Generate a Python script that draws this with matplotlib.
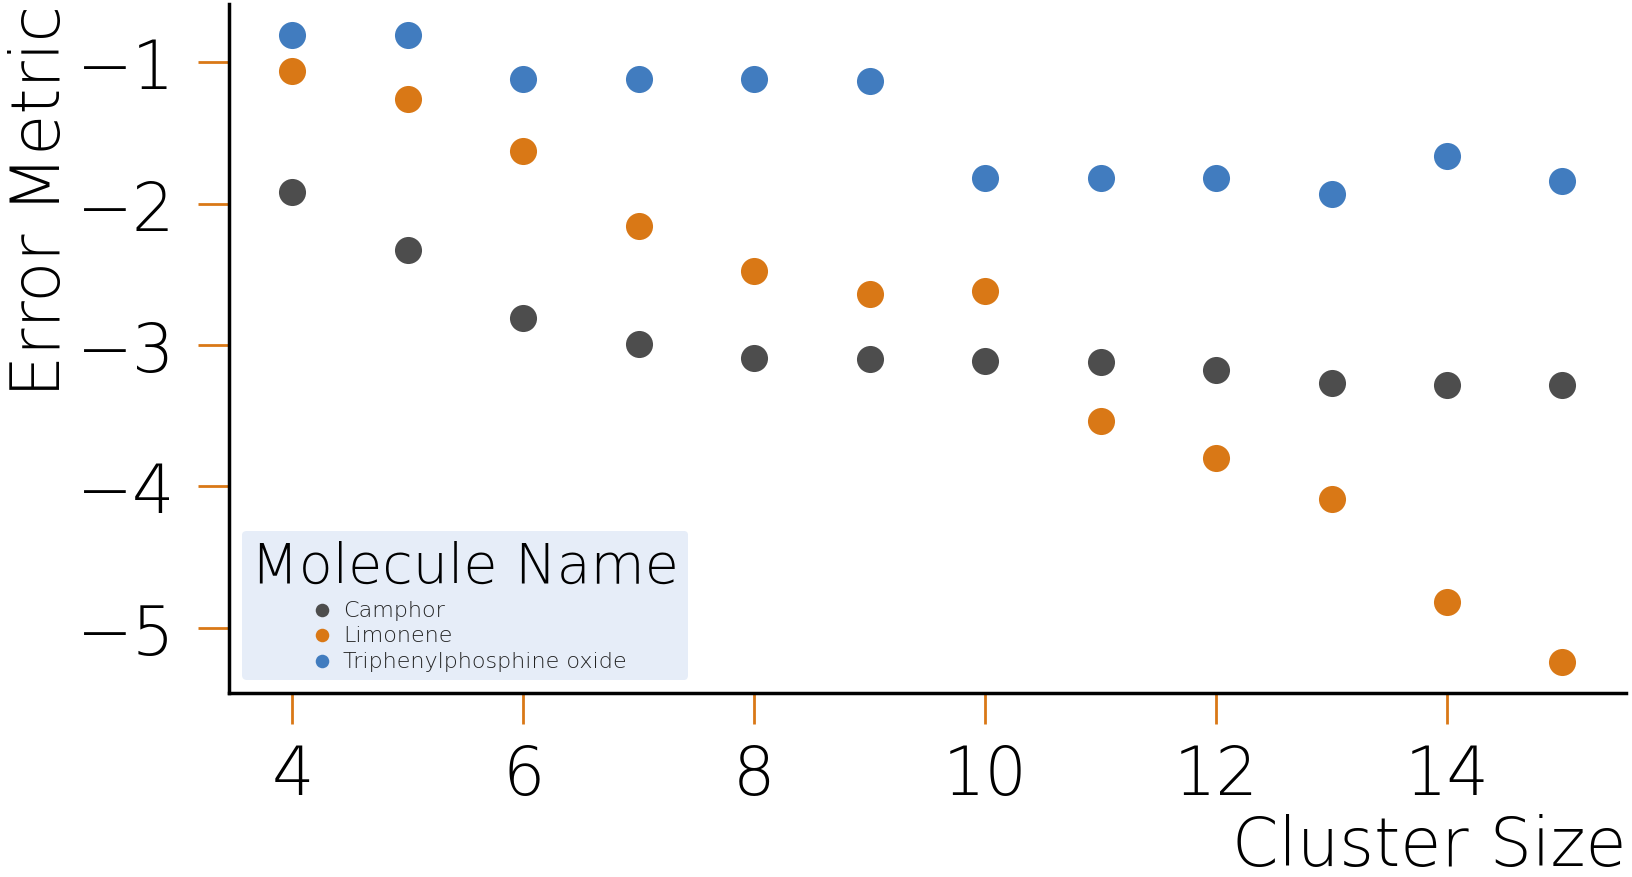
import matplotlib
matplotlib.use("Agg")
import matplotlib.pyplot as plt

cluster_size = [4, 5, 6, 7, 8, 9, 10, 11, 12, 13, 14, 15]
camphor = [-1.92, -2.33, -2.81, -2.99, -3.09, -3.10, -3.11, -3.12, -3.18, -3.27, -3.28, -3.28]
limonene = [-1.06, -1.26, -1.63, -2.16, -2.48, -2.64, -2.62, -3.54, -3.80, -4.09, -4.82, -5.24]
tppo = [-0.81, -0.81, -1.12, -1.12, -1.12, -1.13, -1.82, -1.82, -1.82, -1.93, -1.66, -1.84]
names = ["Camphor", "Limonene", "Triphenylphosphine oxide"]
colors = ["#4d4d4d", "#d97816", "#417cbf"]
series = [camphor, limonene, tppo]

plt.rcParams['font.family'] = ['DejaVu Sans']
W = 'light'

fig = plt.figure(figsize=(16.32, 8.78), dpi=100)
ax = fig.add_axes([229/1632, 1 - 694/878, (1626-229)/1632, (694-5)/878])

for vals, name, c in zip(series, names, colors):
    ax.scatter(cluster_size, vals, s=380, color=c, linewidths=0, label=name, zorder=3)

ax.spines['top'].set_visible(False)
ax.spines['right'].set_visible(False)
ax.spines['left'].set_linewidth(2.5)
ax.spines['bottom'].set_linewidth(2.5)

ax.set_xticks([4, 6, 8, 10, 12, 14])
ax.set_yticks([-1, -2, -3, -4, -5])
ax.tick_params(axis='both', direction='out', length=22, width=2, color='#d97816',
               labelsize=48)
ax.tick_params(axis='x', pad=13)
ax.tick_params(axis='y', pad=17)
for lab in ax.get_xticklabels() + ax.get_yticklabels():
    lab.set_fontweight(W)

ax.set_xlabel("Cluster Size", fontsize=48, loc='right', fontweight=W, labelpad=4)
ax.set_ylabel("Error Metric", fontsize=48, loc='top', fontweight=W, labelpad=2)

leg = ax.legend(title="Molecule Name", loc='lower left', fontsize=16,
                title_fontsize=40, frameon=True, fancybox=True,
                facecolor='#e6edf8', edgecolor='none', framealpha=1,
                markerscale=0.5, handlelength=1.7, handletextpad=0.1,
                labelspacing=0.25, borderaxespad=0.6, bbox_to_anchor=(0.0, 0.0))
leg.get_title().set_fontweight(W)
for t in leg.get_texts():
    t.set_fontweight(W)
    t.set_color('#222222')
leg._legend_box.align = "center"

fig.savefig("out.png", dpi=100)
